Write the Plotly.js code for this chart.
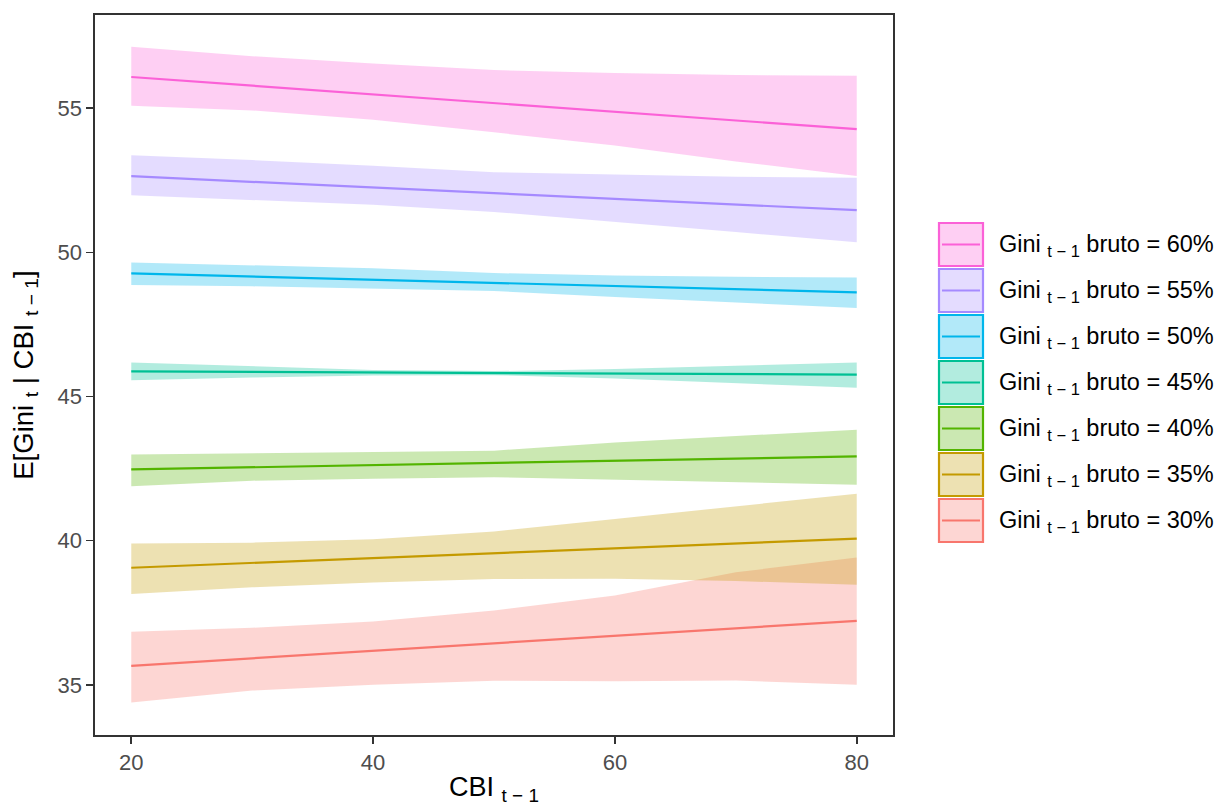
<!DOCTYPE html>
<html>
<head>
<meta charset="utf-8">
<script src="https://cdn.plot.ly/plotly-3.0.1.min.js"></script>
<style>html,body{margin:0;padding:0;background:#fff;}#chart{width:1219px;height:806px;}</style>
</head>
<body>
<div id="chart"></div>
<script>
// ---- data ----
const cbiBand = [20, 30, 40, 50, 60, 70, 80];
const cbiLine = [20, 80];
const giniLevels = ['60%', '55%', '50%', '45%', '40%', '35%', '30%'];
const seriesColors = ['#FB61D7', '#A58AFF', '#00B6EB', '#00C094', '#53B400', '#C49A00', '#F8766D'];

const fit60 = [56.08, 54.27];
const fit55 = [52.64, 51.46];
const fit50 = [49.27, 48.61];
const fit45 = [45.87, 45.76];
const fit40 = [42.47, 42.92];
const fit35 = [39.06, 40.07];
const fit30 = [35.66, 37.22];

const upper60 = [57.13, 56.80, 56.55, 56.32, 56.22, 56.15, 56.12];
const lower60 = [55.08, 54.92, 54.60, 54.16, 53.70, 53.15, 52.65];
const upper55 = [53.37, 53.20, 53.00, 52.78, 52.70, 52.62, 52.59];
const lower55 = [51.98, 51.82, 51.65, 51.40, 51.05, 50.70, 50.35];
const upper50 = [49.65, 49.55, 49.45, 49.28, 49.20, 49.15, 49.13];
const lower50 = [48.87, 48.82, 48.75, 48.66, 48.45, 48.25, 48.07];
const upper45 = [46.18, 46.05, 45.92, 45.88, 45.95, 46.07, 46.18];
const lower45 = [45.56, 45.66, 45.73, 45.74, 45.62, 45.47, 45.30];
const upper40 = [42.99, 43.03, 43.07, 43.12, 43.40, 43.63, 43.85];
const lower40 = [41.89, 42.08, 42.15, 42.20, 42.12, 42.03, 41.94];
const upper35 = [39.90, 39.93, 40.05, 40.32, 40.75, 41.20, 41.63];
const lower35 = [38.15, 38.38, 38.55, 38.67, 38.68, 38.60, 38.47];
const upper30 = [36.84, 36.98, 37.20, 37.58, 38.10, 38.90, 39.42];
const lower30 = [34.39, 34.80, 35.00, 35.14, 35.12, 35.15, 35.00];

const xTicks = [20, 40, 60, 80];
const yTicks = [35, 40, 45, 50, 55];

// ---- build ----
const fits = [fit60, fit55, fit50, fit45, fit40, fit35, fit30];
const uppers = [upper60, upper55, upper50, upper45, upper40, upper35, upper30];
const lowers = [lower60, lower55, lower50, lower45, lower40, lower35, lower30];

function rgba(hex, a) {
  const r = parseInt(hex.slice(1,3),16), g = parseInt(hex.slice(3,5),16), b = parseInt(hex.slice(5,7),16);
  return 'rgba(' + r + ',' + g + ',' + b + ',' + a + ')';
}

const FONT = 'Liberation Sans, Arial, sans-serif';
const traces = [];
for (let i = giniLevels.length - 1; i >= 0; i--) {
  traces.push({
    type: 'scatter', mode: 'lines',
    x: cbiBand.concat(cbiBand.slice().reverse()),
    y: uppers[i].concat(lowers[i].slice().reverse()),
    fill: 'toself', fillcolor: rgba(seriesColors[i], 0.3),
    line: {width: 0}, hoverinfo: 'skip', showlegend: false
  });
}
for (let i = giniLevels.length - 1; i >= 0; i--) {
  traces.push({
    type: 'scatter', mode: 'lines',
    x: cbiLine, y: fits[i],
    line: {color: seriesColors[i], width: 2.2},
    name: 'Gini t-1 bruto = ' + giniLevels[i], showlegend: false
  });
}

// manual ggplot-style legend (paper coords from pixel layout)
const L = 95, R = 893, T = 15, B = 735;
const px2x = p => (p - L) / (R - L);
const py2y = p => (B - p) / (B - T);
const shapes = [], annotations = [];
const keyLeft = 939, keyW = 44, keyTop = 223, keyH = 43, keyStep = 46;
giniLevels.forEach((lev, i) => {
  const top = keyTop + i * keyStep;
  shapes.push({
    type: 'rect', xref: 'paper', yref: 'paper', layer: 'above',
    x0: px2x(keyLeft), x1: px2x(keyLeft + keyW), y0: py2y(top), y1: py2y(top + keyH),
    fillcolor: rgba(seriesColors[i], 0.3), line: {color: seriesColors[i], width: 2.2}
  });
  shapes.push({
    type: 'line', xref: 'paper', yref: 'paper', layer: 'above',
    x0: px2x(keyLeft + 3), x1: px2x(keyLeft + keyW - 3), y0: py2y(top + keyH / 2), y1: py2y(top + keyH / 2),
    line: {color: seriesColors[i], width: 2.2}
  });
  annotations.push({
    xref: 'paper', yref: 'paper', x: px2x(997), y: py2y(top + keyH / 2 + 1),
    xanchor: 'left', yanchor: 'middle', showarrow: false,
    text: 'Gini <sub>t − 1</sub> bruto = ' + lev,
    font: {family: FONT, size: 23.5, color: '#000000'}
  });
});

const layout = {
  width: 1219, height: 806,
  margin: {l: L, r: 1219 - R, t: T, b: 806 - B},
  paper_bgcolor: '#ffffff', plot_bgcolor: '#ffffff',
  font: {family: FONT},
  showlegend: false,
  xaxis: {
    range: [17, 83], tickvals: xTicks, ticktext: xTicks.map(String),
    showgrid: false, zeroline: false,
    showline: true, mirror: true, linecolor: '#333333', linewidth: 1.6,
    ticks: 'outside', ticklen: 7, tickwidth: 1.6, tickcolor: '#333333',
    tickfont: {family: FONT, size: 22, color: '#4D4D4D'},
    title: {text: 'CBI <sub>t − 1</sub>', font: {family: FONT, size: 27, color: '#000000'}, standoff: 4},
    automargin: false
  },
  yaxis: {
    range: [33.26, 58.23], tickvals: yTicks, ticktext: yTicks.map(String),
    showgrid: false, zeroline: false,
    showline: true, mirror: true, linecolor: '#333333', linewidth: 1.6,
    ticks: 'outside', ticklen: 7, tickwidth: 1.6, tickcolor: '#333333',
    tickfont: {family: FONT, size: 22, color: '#4D4D4D'},
    title: {text: 'E[Gini <sub>t</sub> | CBI <sub>t − 1</sub>]', font: {family: FONT, size: 27.5, color: '#000000'}, standoff: 16},
    automargin: false
  },
  shapes: shapes,
  annotations: annotations
};

Plotly.newPlot('chart', traces, layout, {displayModeBar: false, staticPlot: true});
</script>
</body>
</html>
